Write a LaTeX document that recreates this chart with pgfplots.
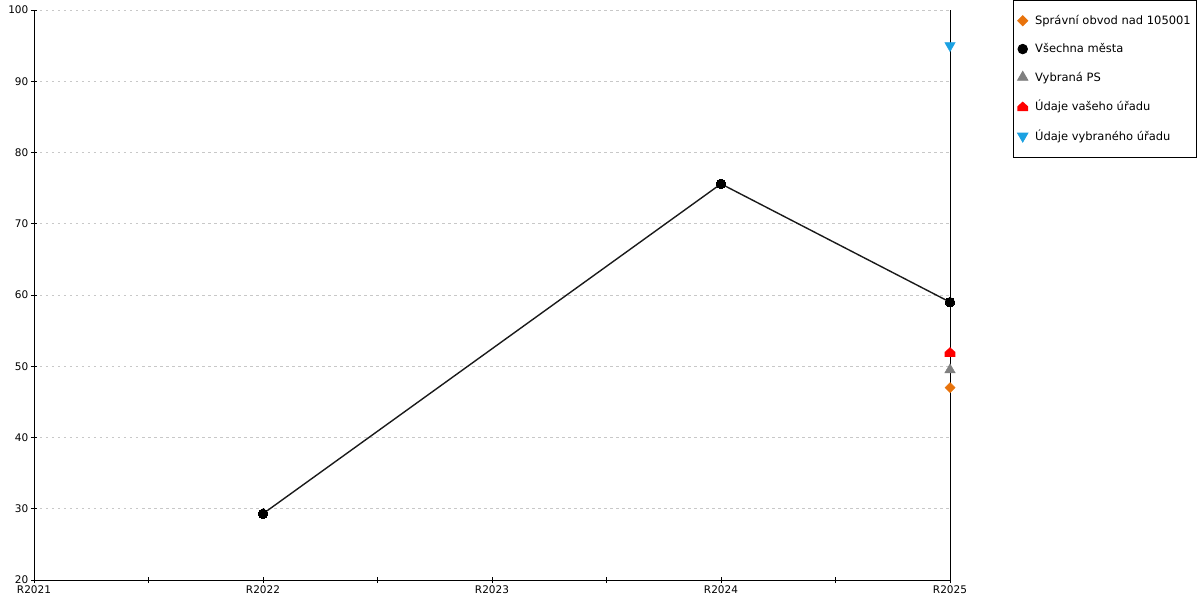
\documentclass[border=0pt]{standalone}
\usepackage{fontspec}
\setmainfont{DejaVu Sans}
\usepackage{pgfplots}
\pgfplotsset{compat=1.18}
\usetikzlibrary{plotmarks}

\definecolor{cOrange}{HTML}{E8730C}
\definecolor{cGray}{HTML}{808080}
\definecolor{cRed}{HTML}{FF0000}
\definecolor{cBlue}{HTML}{1BA1E2}
\definecolor{cLine}{HTML}{1A1A1A}
\definecolor{cGrid}{HTML}{C8C8C8}

% house-shaped marker
\pgfdeclareplotmark{house}{%
  \pgfpathmoveto{\pgfqpoint{-\pgfplotmarksize}{-0.9\pgfplotmarksize}}%
  \pgfpathlineto{\pgfqpoint{\pgfplotmarksize}{-0.9\pgfplotmarksize}}%
  \pgfpathlineto{\pgfqpoint{\pgfplotmarksize}{0pt}}%
  \pgfpathlineto{\pgfqpoint{0pt}{0.9\pgfplotmarksize}}%
  \pgfpathlineto{\pgfqpoint{-\pgfplotmarksize}{0pt}}%
  \pgfpathclose
  \pgfusepathqfill}

\begin{document}
\fontsize{10.5pt}{12pt}\selectfont
\begin{tikzpicture}
\begin{axis}[
  width=916pt, height=570pt,
  scale only axis,
  xmin=0, xmax=4,
  ymin=20, ymax=100,
  axis x line=bottom, axis y line=left,
  axis line style={-, black, line width=0.8pt},
  xtick={0,1,2,3,4},
  xticklabels={R2021,R2022,R2023,R2024,R2025},
  minor xtick={0.5,1.5,2.5,3.5},
  ytick={20,30,...,100},
  tick align=center,
  major tick length=6pt, minor tick length=6pt,
  tick style={black, line width=0.8pt},
  ymajorgrids,
  grid style={cGrid, dash pattern=on 2.5pt off 3.5pt, line width=0.6pt},
  extra x ticks={4},
  extra x tick labels={},
  extra x tick style={grid=major, major grid style={black, solid, line width=0.8pt}},
  ticklabel style={font=\fontsize{10.5pt}{12pt}\selectfont},
  /pgf/number format/assume math mode=true,
  xticklabel style={yshift=1pt},
  yticklabel style={xshift=1pt},
  clip=false,
  legend style={
    at={(1.0688,1.01754)}, anchor=north west,
    draw=black, line width=0.8pt,
    font=\fontsize{11.5pt}{13pt}\selectfont,
    cells={anchor=west},
    row sep=13.5pt,
    inner xsep=4pt, inner ysep=13pt,
  },
  legend image code/.code={%
    \path[draw=none] (0cm,0cm) -- (0.24cm+7pt,0cm);
    \draw[#1] plot coordinates {(0.12cm,0cm)};},
]
\addplot[only marks, mark=square*, mark size=3.6pt, mark options={rotate=45, fill=cOrange, draw=cOrange}]
  coordinates {(4,47)};
\addlegendentry{Správní obvod nad 105001}

\addplot[cLine, line width=1.4pt, mark=*, mark size=4.8pt, mark options={fill=black, draw=black, line width=0pt}, forget plot]
  coordinates {(1,29.3) (3,75.6) (4,59.0)};
\addlegendimage{only marks, mark=*, mark size=4.8pt, mark options={fill=black, draw=black}}
\addlegendentry{Všechna města}

\addplot[only marks, mark=triangle*, mark size=6pt, mark options={fill=cGray, draw=cGray}]
  coordinates {(4,49.5)};
\addlegendentry{Vybraná PS}

\addplot[only marks, mark=house, mark size=5.3pt, mark options={fill=cRed, draw=cRed}]
  coordinates {(4,52)};
\addlegendentry{Údaje vašeho úřadu}

\addplot[only marks, mark=triangle*, mark size=6pt, mark options={rotate=180, fill=cBlue, draw=cBlue}]
  coordinates {(4,95)};
\addlegendentry{Údaje vybraného úřadu}
\end{axis}
\pgfresetboundingbox
\path[use as bounding box] (-34pt,-20pt) rectangle (1166pt,580pt);
\end{tikzpicture}
\end{document}
